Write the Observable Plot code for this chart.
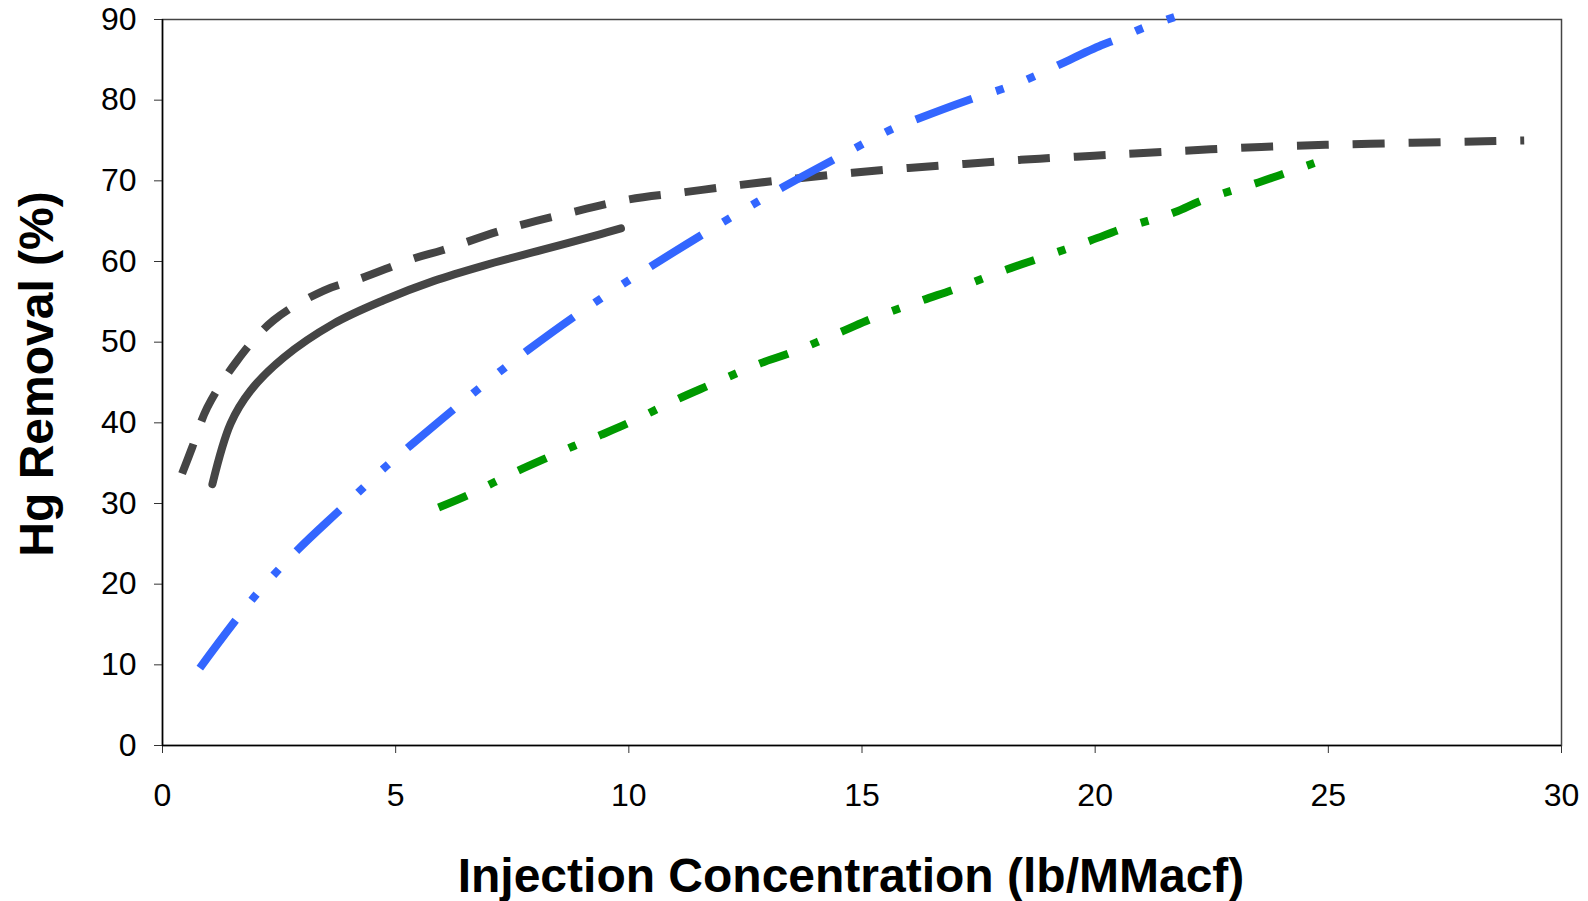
<!DOCTYPE html>
<html>
<head>
<meta charset="utf-8">
<script src="https://cdn.jsdelivr.net/npm/d3@7"></script>
<script src="https://cdn.jsdelivr.net/npm/@observablehq/plot@0.6"></script>
<style>
  html, body { margin: 0; padding: 0; background: #fff; }
</style>
</head>
<body>
<div id="chart"></div>
<script>
// Tick values
const xTicks = [0, 5, 10, 15, 20, 25, 30];
const yTicks = [0, 10, 20, 30, 40, 50, 60, 70, 80, 90];

// Series: dark gray solid
const solidX = [1.07, 1.46, 1.89, 2.6, 3.67, 4.74, 5.82, 6.89, 8.18, 9.4, 9.83];
const solidY = [32.4, 39.9, 44.0, 48.1, 52.3, 55.2, 57.6, 59.5, 61.5, 63.4, 64.1];

// Series: dark gray dashed
const dashX = [0.42, 0.64, 0.96, 1.6, 2.38, 3.46, 4.25, 5.4, 6.0, 7.3, 8.7, 10.0, 11.2, 12.4, 13.6, 14.8, 16.0, 17.2, 18.4, 19.6, 20.84, 23.56, 25.9, 28.35, 29.2];
const dashY = [33.7, 37.0, 41.9, 47.7, 52.7, 56.4, 57.9, 60.4, 61.4, 63.9, 66.0, 67.7, 68.6, 69.5, 70.3, 71.0, 71.6, 72.1, 72.6, 73.0, 73.4, 74.2, 74.6, 74.9, 75.0];

// Series: blue dash-dot-dot
const blueX = [0.8, 1.95, 2.89, 3.86, 4.81, 5.32, 6.29, 7.31, 7.83, 8.86, 9.98, 10.5, 11.65, 12.76, 13.3, 14.48, 15.64, 16.2, 17.27, 18.3, 20.13, 20.49, 21.05, 21.7];
const blueY = [9.6, 18.3, 24.2, 29.5, 34.7, 37.2, 41.9, 46.7, 49.0, 53.3, 57.6, 59.5, 63.6, 67.4, 69.2, 72.9, 76.4, 77.7, 80.0, 82.0, 86.8, 87.6, 89.0, 90.3];

// Series: green dash-dot
const greenX = [5.92, 6.54, 7.1, 7.64, 8.26, 8.81, 9.4, 10.0, 11.07, 11.7, 12.83, 13.48, 14.6, 15.2, 16.3, 17.0, 18.1, 18.8, 19.9, 20.6, 21.7, 22.3, 23.5, 24.1, 24.7];
const greenY = [29.5, 31.0, 32.6, 34.1, 35.7, 37.1, 38.5, 40.0, 43.0, 44.6, 47.4, 48.7, 51.4, 52.9, 55.2, 56.6, 59.0, 60.4, 62.6, 64.1, 66.1, 67.6, 69.8, 71.0, 72.2];

const xTitle = "Injection Concentration (lb/MMacf)";
const yTitle = "Hg Removal (%)";

const toRows = (xs, ys) => xs.map((x, i) => ({x, y: ys[i]}));

const font = "'Liberation Sans', Arial, Helvetica, sans-serif";

// dash patterns and where along the pattern each line ends
const dashStyles = [
  {label: "gray-dash", pattern: [32, 24], endAt: 4},
  {label: "blue-dashdotdot", pattern: [59, 25, 8, 25, 8, 25], endAt: 125},
  {label: "green-dashdot", pattern: [31, 25, 8, 25], endAt: 64}
];

const chart = Plot.plot({
  width: 1588,
  height: 901,
  marginLeft: 162,
  marginRight: 27,
  marginTop: 19,
  marginBottom: 156,
  style: {fontFamily: font, fontSize: "32px", color: "#000", background: "#fff"},
  x: {domain: [0, 30], ticks: xTicks},
  y: {domain: [0, 90], ticks: yTicks},
  marks: [
    Plot.frame({stroke: "#444", strokeWidth: 1.5}),
    Plot.axisX({ticks: xTicks, tickSize: 8, tickPadding: 30, label: null, fontSize: 32, stroke: "#333"}),
    Plot.axisY({ticks: yTicks, tickSize: 8, tickPadding: 18, label: null, fontSize: 32, stroke: "#333"}),
    Plot.ruleX([0], {stroke: "#000", strokeWidth: 1.5}),
    Plot.ruleY([0], {stroke: "#000", strokeWidth: 1.5}),
    Plot.line(toRows(solidX, solidY), {x: "x", y: "y", stroke: "#454545", strokeWidth: 8, curve: "catmull-rom", ariaDescription: "gray-solid"}),
    Plot.line(toRows(dashX, dashY), {x: "x", y: "y", stroke: "#454545", strokeWidth: 8, strokeDasharray: "32,24", strokeLinecap: "butt", curve: "catmull-rom", ariaDescription: "gray-dash"}),
    Plot.line(toRows(blueX, blueY), {x: "x", y: "y", stroke: "#3366FF", strokeWidth: 8, strokeDasharray: "59,25,8,25,8,25", strokeLinecap: "butt", curve: "catmull-rom", ariaDescription: "blue-dashdotdot"}),
    Plot.line(toRows(greenX, greenY), {x: "x", y: "y", stroke: "#009900", strokeWidth: 8, strokeDasharray: "31,25,8,25", strokeLinecap: "butt", curve: "catmull-rom", ariaDescription: "green-dashdot"}),
    Plot.text([xTitle], {text: d => d, frameAnchor: "bottom", dx: -11, dy: 131, lineAnchor: "middle", textAnchor: "middle", fontSize: 48, fontWeight: "bold", fill: "#000"}),
    Plot.text([yTitle], {text: d => d, frameAnchor: "left", rotate: -90, dx: -124.5, dy: -8.5, lineAnchor: "middle", textAnchor: "middle", fontSize: 48, fontWeight: "bold", fill: "#000"})
  ]
});

document.getElementById("chart").appendChild(chart);

// Slightly rescale each dash pattern so that the line ends on the same pattern element as the reference
for (const ds of dashStyles) {
  d3.select(chart).selectAll(`g[aria-description="${ds.label}"] path`).each(function () {
    const L = this.getTotalLength();
    const P = d3.sum(ds.pattern);
    const n = Math.max(0, Math.round((L - ds.endAt) / P));
    const s = L / (n * P + ds.endAt);
    this.setAttribute("stroke-dasharray", ds.pattern.map(v => (v * s).toFixed(3)).join(","));
  });
}
</script>
</body>
</html>
